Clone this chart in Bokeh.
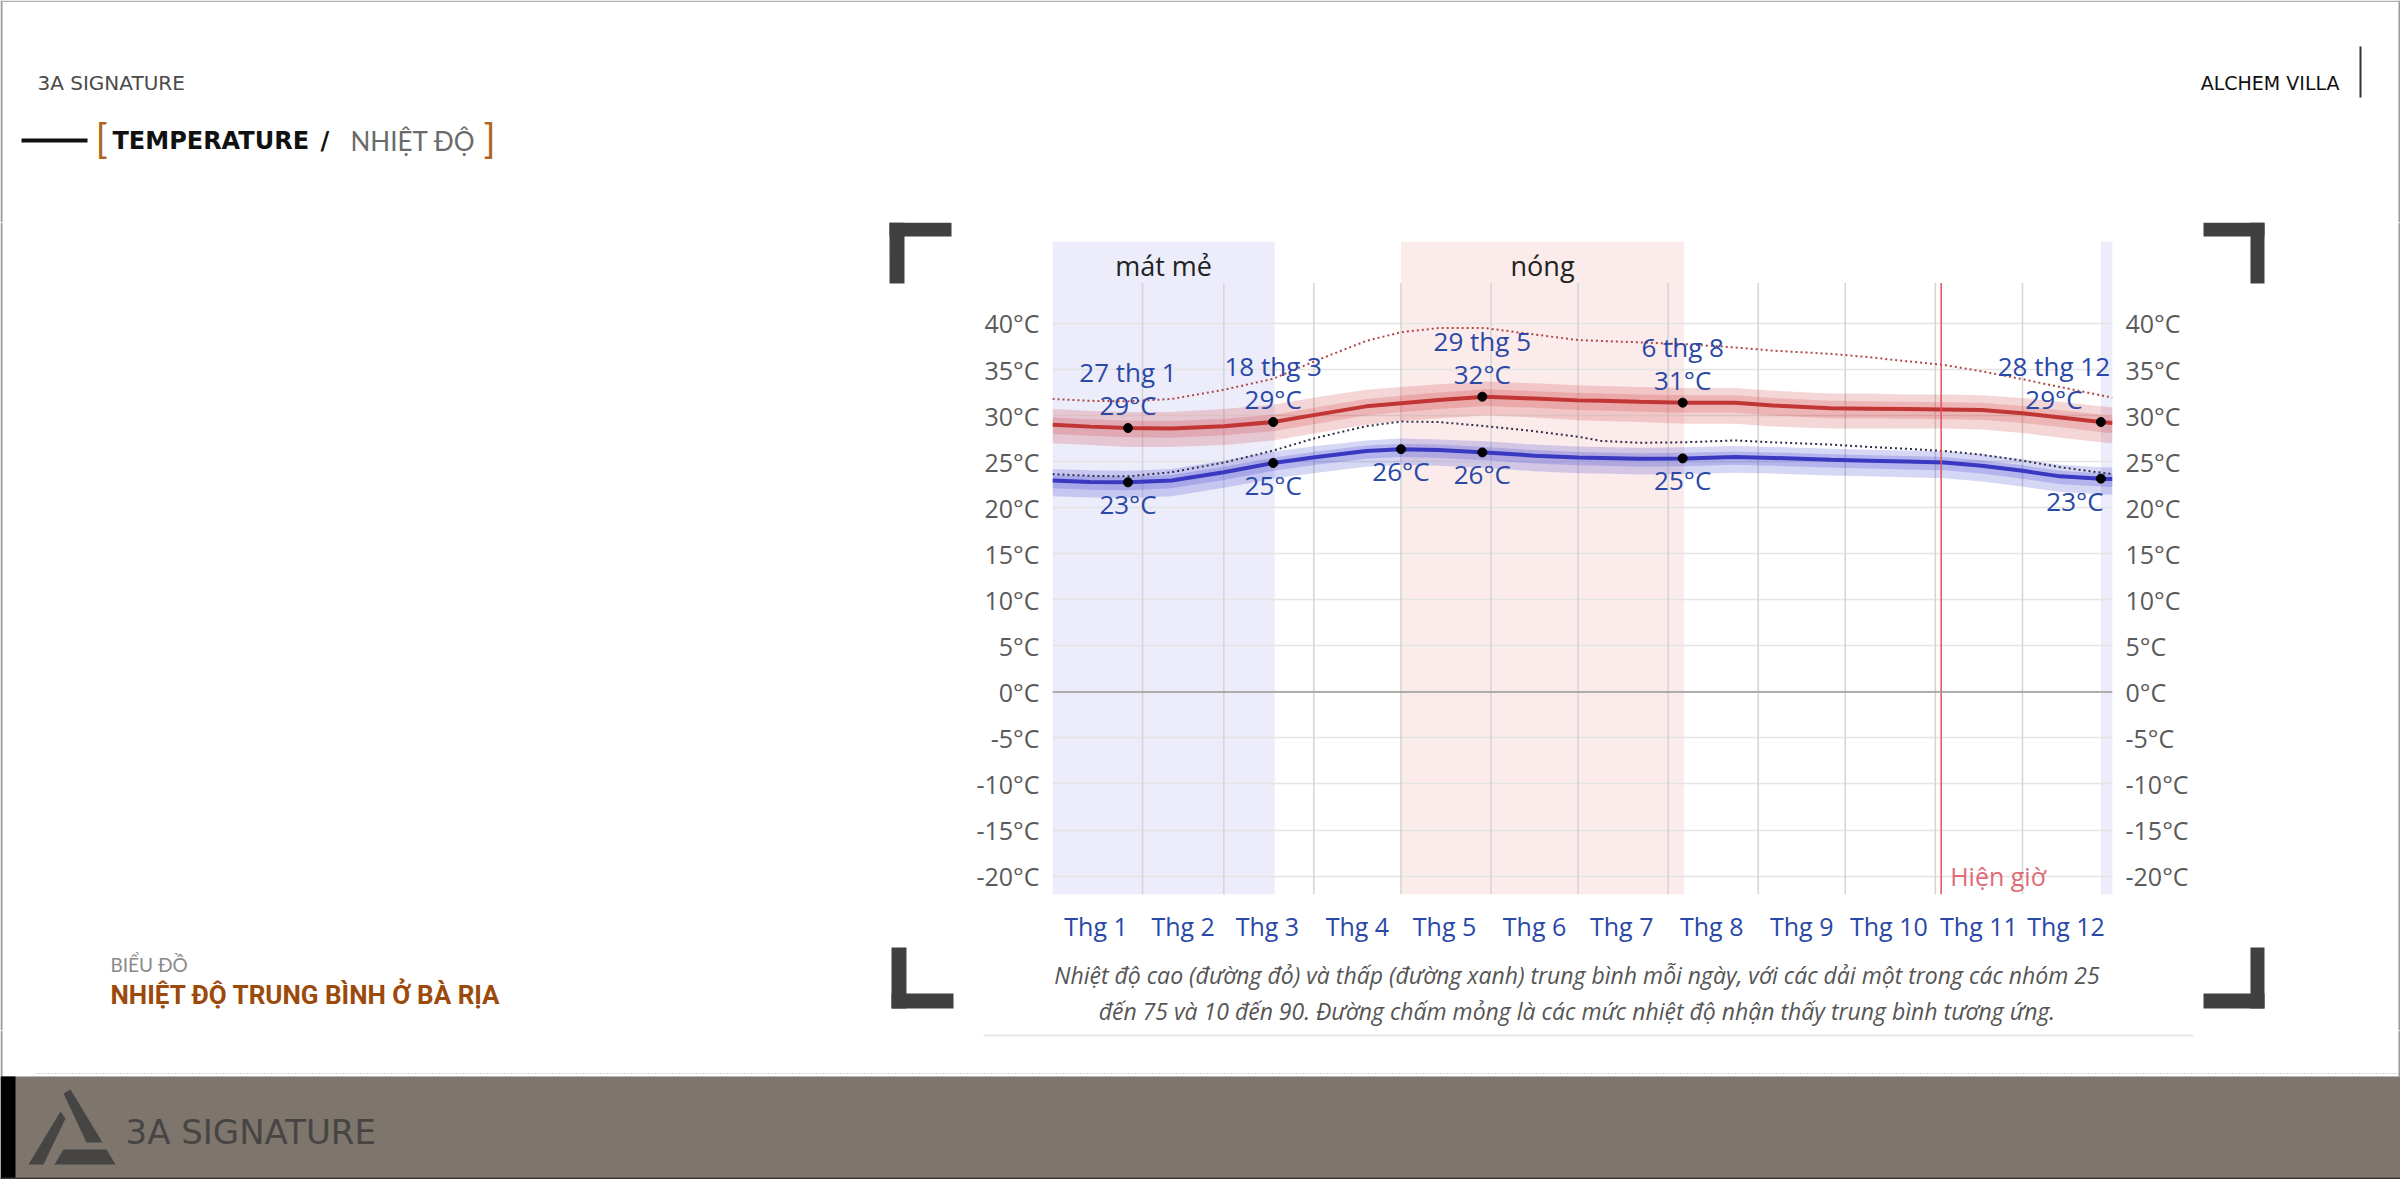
from bokeh.plotting import figure
from bokeh.layouts import column, row
from bokeh.models import (Range1d, LinearAxis, FixedTicker, PrintfTickFormatter, Label,
                          Span, ColumnDataSource)
from bokeh.core.properties import value
from bokeh.embed import file_html
from bokeh.resources import INLINE

# ---------------- data ----------------
months = ["Thg 1", "Thg 2", "Thg 3", "Thg 4", "Thg 5", "Thg 6",
          "Thg 7", "Thg 8", "Thg 9", "Thg 10", "Thg 11", "Thg 12"]
month_mid = [15, 45, 74, 105, 135, 166, 196, 227, 258, 288, 319, 349]
month_start = [31, 59, 90, 120, 151, 181, 212, 243, 273, 304, 334]
y_ticks = [-20, -15, -10, -5, 0, 5, 10, 15, 20, 25, 30, 35, 40]

days = [0, 13, 26, 41, 59, 76, 91, 108, 120, 133, 149, 166, 181, 189, 202,
        218, 235, 248, 268, 281, 294, 307, 320, 334, 347, 361, 365]
high_mean = [29.0, 28.8, 28.65, 28.6, 28.85, 29.3, 30.1, 31.0, 31.35, 31.7, 32.05, 31.85, 31.65, 31.6, 31.5,
             31.4, 31.4, 31.1, 30.8, 30.75, 30.7, 30.65, 30.6, 30.25, 29.8, 29.3, 29.2]
high_p90 = [30.7, 30.5, 30.4, 30.4, 30.7, 31.2, 32.0, 32.8, 33.1, 33.4, 33.7, 33.5, 33.3, 33.2, 33.1,
            33.0, 33.0, 32.7, 32.4, 32.4, 32.3, 32.3, 32.2, 31.9, 31.5, 31.0, 30.9]
high_p75 = [29.8, 29.6, 29.45, 29.4, 29.65, 30.1, 30.9, 31.8, 32.15, 32.5, 32.85, 32.65, 32.45, 32.4, 32.3,
            32.2, 32.2, 31.9, 31.6, 31.55, 31.5, 31.45, 31.4, 31.05, 30.6, 30.1, 30.0]
high_p25 = [28.0, 27.8, 27.65, 27.6, 27.85, 28.3, 29.1, 30.0, 30.35, 30.7, 31.05, 30.85, 30.6, 30.55, 30.45,
            30.3, 30.3, 30.0, 29.7, 29.7, 29.65, 29.6, 29.55, 29.2, 28.75, 28.2, 28.1]
high_p10 = [27.0, 26.8, 26.6, 26.6, 26.8, 27.3, 28.1, 29.0, 29.4, 29.7, 30.0, 29.8, 29.5, 29.4, 29.3,
            29.1, 29.1, 28.8, 28.6, 28.6, 28.6, 28.6, 28.5, 28.1, 27.6, 27.1, 27.0]
low_mean = [22.95, 22.8, 22.75, 22.95, 23.85, 24.85, 25.5, 26.15, 26.35, 26.25, 26.0, 25.65, 25.45, 25.4, 25.3,
            25.35, 25.5, 25.4, 25.2, 25.1, 25.0, 24.9, 24.55, 24.0, 23.4, 23.15, 23.1]
low_p90 = [24.2, 24.05, 24.0, 24.2, 25.1, 26.1, 26.7, 27.3, 27.5, 27.4, 27.2, 26.85, 26.65, 26.6, 26.5,
           26.55, 26.7, 26.6, 26.4, 26.3, 26.2, 26.1, 25.8, 25.25, 24.65, 24.4, 24.35]
low_p75 = [23.55, 23.4, 23.35, 23.55, 24.45, 25.45, 26.1, 26.75, 26.95, 26.85, 26.6, 26.25, 26.05, 26.0, 25.9,
           25.95, 26.1, 26.0, 25.8, 25.7, 25.6, 25.5, 25.15, 24.6, 24.0, 23.75, 23.7]
low_p25 = [22.1, 21.95, 21.9, 22.1, 23.0, 24.0, 24.65, 25.3, 25.5, 25.4, 25.15, 24.8, 24.6, 24.55, 24.45,
           24.5, 24.65, 24.55, 24.35, 24.25, 24.15, 24.05, 23.7, 23.15, 22.55, 22.3, 22.25]
low_p10 = [21.25, 21.1, 21.05, 21.25, 22.15, 23.15, 23.8, 24.45, 24.65, 24.55, 24.3, 23.95, 23.75, 23.7, 23.6,
           23.65, 23.8, 23.7, 23.5, 23.4, 23.3, 23.2, 22.85, 22.3, 21.7, 21.45, 21.4]
feel_high = [31.8, 31.6, 31.55, 31.8, 32.8, 34.0, 36.0, 38.1, 39.05, 39.5, 39.5, 38.8, 38.2, 38.1, 37.95,
             37.75, 37.4, 37.05, 36.7, 36.35, 35.9, 35.5, 34.8, 33.95, 33.1, 32.2, 31.95]
feel_low = [23.65, 23.45, 23.4, 23.85, 24.9, 26.2, 27.6, 28.85, 29.35, 29.3, 28.85, 28.3, 27.7, 27.25, 27.05,
            27.1, 27.3, 27.1, 26.85, 26.6, 26.4, 26.15, 25.75, 25.1, 24.4, 23.8, 23.65]

cool_left = [0, 361]
cool_right = [76.5, 365]
hot_left = [120]
hot_right = [217.5]
season_names = ["mát mẻ", "nóng"]
season_mid = [38.25, 168.75]

hi_mark_day = [26, 76, 148, 217, 361]
hi_mark_val = [28.65, 29.3, 32.05, 31.4, 29.3]
hi_mark_date = ["27 thg 1", "18 thg 3", "29 thg 5", "6 thg 8", "28 thg 12"]
hi_mark_temp = ["29°C", "29°C", "32°C", "31°C", "29°C"]
lo_mark_day = [26, 76, 120, 148, 217, 361]
lo_mark_val = [22.75, 24.85, 26.35, 26.0, 25.35, 23.15]
lo_mark_temp = ["23°C", "25°C", "26°C", "26°C", "25°C", "23°C"]
now_day = 306

caption_1 = "Nhiệt độ cao (đường đỏ) và thấp (đường xanh) trung bình mỗi ngày, với các dải một trong các nhóm 25"
caption_2 = "đến 75 và 10 đến 90. Đường chấm mỏng là các mức nhiệt độ nhận thấy trung bình tương ứng."

# ---------------- page geometry (page pixel coordinates) ----------------
PAGE_L, PAGE_R, PAGE_T, PAGE_B = 0, 2400, 0, 1179
ROW1_B = 222      # header bottom
ROW2_B = 1030     # middle row bottom
COL1_R = 960      # left panel right edge
COL2_R = 2195     # chart column right edge
CHART_B = 945     # chart figure bottom
FL, FR, FT, FB = 1052, 2112, 241, 903   # chart frame
Y_LO, Y_HI = -22.0, 48.9
GRID_TOP = 44.4
FONT = "Open Sans"
BLUE_TXT = "#2a48a6"


def page_fig(x0, x1, y0, y1):
    f = figure(width=x1 - x0, height=y1 - y0, output_backend="svg", toolbar_location=None,
               x_range=Range1d(x0, x1), y_range=Range1d(y1, y0),
               x_axis_location=None, y_axis_location=None, min_border=0,
               background_fill_color="white", border_fill_color="white")
    f.outline_line_color = None
    f.xgrid.visible = False
    f.ygrid.visible = False
    return f


def box(f, l, r, t, b, color):
    f.quad(left=[l], right=[r], top=[t], bottom=[b], fill_color=color, line_color=None)


def txt(f, x, y, text, size, color, font="Lato", style="normal", align="left"):
    f.text(x=[x], y=[y], text=[text], text_font=value(font), text_font_size=size,
           text_color=color, text_font_style=style, text_align=align, text_baseline="middle")


# ---------------- chart ----------------
p = figure(width=COL2_R - COL1_R, height=CHART_B - ROW1_B, output_backend="svg", toolbar_location=None,
           x_range=Range1d(0, 365), y_range=Range1d(Y_LO, Y_HI),
           min_border_left=FL - COL1_R, min_border_right=COL2_R - FR,
           min_border_top=FT - ROW1_B, min_border_bottom=CHART_B - FB,
           background_fill_color="white", border_fill_color="white")
p.outline_line_color = None

p.xaxis.ticker = FixedTicker(ticks=month_mid)
p.xaxis.major_label_overrides = {m: n for m, n in zip(month_mid, months)}
p.xaxis.axis_line_color = None
p.xaxis.major_tick_line_color = None
p.xaxis.minor_tick_line_color = None
p.xaxis.major_label_standoff = 8
p.xaxis.major_label_text_font = FONT
p.xaxis.major_label_text_font_size = "25px"
p.xaxis.major_label_text_color = BLUE_TXT

p.yaxis.ticker = FixedTicker(ticks=y_ticks)
p.yaxis.formatter = PrintfTickFormatter(format="%d°C")
right_axis = LinearAxis(ticker=FixedTicker(ticks=y_ticks), formatter=PrintfTickFormatter(format="%d°C"))
p.add_layout(right_axis, "right")
for ax in [p.yaxis[0], right_axis]:
    ax.axis_line_color = None
    ax.major_tick_line_color = None
    ax.minor_tick_line_color = None
    ax.major_label_standoff = 7
    ax.major_label_text_font = FONT
    ax.major_label_text_font_size = "25px"
    ax.major_label_text_color = "#5a5a5a"

p.xgrid.grid_line_color = None
p.ygrid.grid_line_color = "#e4e4e4"
p.ygrid.grid_line_width = 1.5

p.quad(left=cool_left, right=cool_right, bottom=Y_LO, top=Y_HI,
       fill_color="#ececfb", line_color=None, level="image")
p.quad(left=hot_left, right=hot_right, bottom=Y_LO, top=Y_HI,
       fill_color="#fcebeb", line_color=None, level="image")
p.text(x=season_mid, y=[Y_HI] * 2, text=season_names, y_offset=24,
       text_font=value(FONT), text_font_size="27px", text_color="#222222",
       text_align="center", text_baseline="middle")

p.segment(x0=month_start, x1=month_start, y0=Y_LO, y1=GRID_TOP,
          line_color="#d4d4d4", line_width=1.5)
p.add_layout(Span(location=0, dimension="width", line_color="#9a9a9a", line_width=1.5))

p.varea(x=days, y1=high_p10, y2=high_p90, fill_color="#cc3333", fill_alpha=0.2)
p.varea(x=days, y1=high_p25, y2=high_p75, fill_color="#cc3333", fill_alpha=0.2)
p.varea(x=days, y1=low_p10, y2=low_p90, fill_color="#3333cc", fill_alpha=0.2)
p.varea(x=days, y1=low_p25, y2=low_p75, fill_color="#3333cc", fill_alpha=0.2)

p.line(days, feel_high, line_color="#b04848", line_width=2, line_dash="2 3")
p.line(days, feel_low, line_color="#30304a", line_width=2, line_dash="2 3")

p.line(days, high_mean, line_color="#c23535", line_width=4)
p.line(days, low_mean, line_color="#3838c0", line_width=4)

p.segment(x0=[now_day], x1=[now_day], y0=Y_LO, y1=GRID_TOP, line_color="#e0505c", line_width=1.5)
p.add_layout(Label(x=now_day, y=-20, x_offset=9, text="Hiện giờ", text_font=FONT,
                   text_font_size="25px", text_color="#e06a76", text_baseline="middle"))

p.scatter(hi_mark_day, hi_mark_val, size=9, color="black")
p.scatter(lo_mark_day, lo_mark_val, size=9, color="black")
hi_dx = [0, 0, 0, 0, -47]
lo_dx = [0, 0, 0, 0, 0, -26]
hsrc = ColumnDataSource(dict(x=hi_mark_day, y=hi_mark_val, d=hi_mark_date, t=hi_mark_temp, dx=hi_dx))
lsrc = ColumnDataSource(dict(x=lo_mark_day, y=lo_mark_val, t=lo_mark_temp, dx=lo_dx))
common = dict(text_font=value(FONT), text_font_size="26px", text_color=BLUE_TXT,
              text_align="center", text_baseline="middle")
p.text(x="x", y="y", text="d", x_offset="dx", y_offset=-56, source=hsrc, **common)
p.text(x="x", y="y", text="t", x_offset="dx", y_offset=-23, source=hsrc, **common)
p.text(x="x", y="y", text="t", x_offset="dx", y_offset=22, source=lsrc, **common)

# ---------------- caption under chart ----------------
cap = page_fig(COL1_R, COL2_R, CHART_B, ROW2_B)
txt(cap, 1571, 974, caption_1, "23px", "#555555", font=FONT, style="italic", align="center")
txt(cap, 1571, 1010, caption_2, "23px", "#555555", font=FONT, style="italic", align="center")

# ---------------- header ----------------
hdr = page_fig(PAGE_L, PAGE_R, PAGE_T, ROW1_B)
box(hdr, 0, 2, 0, ROW1_B, "#9a9a9a")
box(hdr, 2398, 2400, 0, ROW1_B, "#9a9a9a")
box(hdr, 0, 2400, 0, 1.5, "#b0b0b0")
txt(hdr, 37, 82, "3A SIGNATURE", "20px", "#4a4a4a", font="DejaVu Sans")
txt(hdr, 2339, 82, "ALCHEM VILLA", "19px", "#111111", font="DejaVu Sans", align="right")
box(hdr, 2359, 2361, 46, 97, "#333333")
box(hdr, 21, 87, 138, 142, "#111111")
txt(hdr, 95, 137, "[", "40px", "#b0651e")
txt(hdr, 112, 140, "TEMPERATURE", "24px", "#111111", font="DejaVu Sans", style="bold")
txt(hdr, 320, 140, "/", "24px", "#111111", font="DejaVu Sans", style="bold")
txt(hdr, 350, 140, "NHIỆT ĐỘ", "26px", "#6a6a6a")
txt(hdr, 483, 137, "]", "40px", "#b0651e")

# ---------------- left panel ----------------
BR = "#404040"
lft = page_fig(PAGE_L, COL1_R, ROW1_B, ROW2_B)
box(lft, 0, 2, ROW1_B, ROW2_B, "#9a9a9a")
txt(lft, 110, 964, "BIỂU ĐỒ", "19px", "#8a8a8a")
txt(lft, 110, 994, "NHIỆT ĐỘ TRUNG BÌNH Ở BÀ RỊA", "26px", "#9c4a0b", font="Roboto", style="bold")
box(lft, 889, 951, 222, 236, BR); box(lft, 889, 904, 222, 283, BR)
box(lft, 891, 953, 993, 1008, BR); box(lft, 891, 906, 947, 1008, BR)

# ---------------- right panel ----------------
rgt = page_fig(COL2_R, PAGE_R, ROW1_B, ROW2_B)
box(rgt, 2398, 2400, ROW1_B, ROW2_B, "#9a9a9a")
box(rgt, 2203, 2264, 222, 236, BR); box(rgt, 2250, 2264, 222, 283, BR)
box(rgt, 2203, 2264, 993, 1008, BR); box(rgt, 2250, 2264, 947, 1008, BR)

# ---------------- footer ----------------
ftr = page_fig(PAGE_L, PAGE_R, ROW2_B, PAGE_B)
box(ftr, 0, 2, ROW2_B, 1076, "#9a9a9a")
box(ftr, 2398, 2400, ROW2_B, 1076, "#9a9a9a")
box(ftr, 983, 2193, 1034, 1036, "#e8e8e8")
ftr.segment(x0=[36], x1=[PAGE_R], y0=[1073], y1=[1073], line_color="#aaaaaa", line_width=1, line_dash="1 2")
box(ftr, PAGE_L, PAGE_R, 1076, PAGE_B, "#7e756d")
box(ftr, PAGE_L, 15, 1076, PAGE_B, "#000000")
box(ftr, PAGE_L, PAGE_R, 1177, PAGE_B, "#3a3633")
LOGO = "#474544"
ftr.patches(xs=[[63, 70, 102, 86], [28, 43, 65, 60], [63, 106, 115, 54]],
            ys=[[1093, 1089, 1142, 1142], [1164, 1164, 1118, 1111], [1149, 1149, 1164, 1164]],
            fill_color=LOGO, line_color=None)
txt(ftr, 125, 1131, "3A SIGNATURE", "34px", LOGO, font="DejaVu Sans")

layout = column(hdr, row(lft, column(p, cap), rgt), ftr)
open("out.html", "w").write(file_html(layout, INLINE))
